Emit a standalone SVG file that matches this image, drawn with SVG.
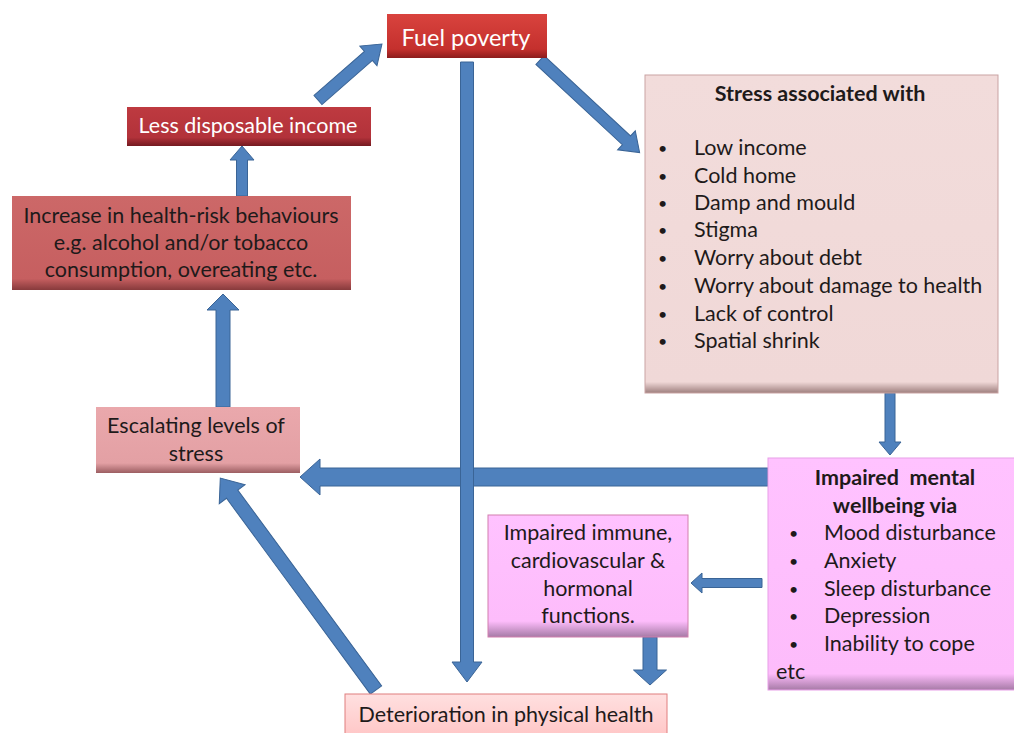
<svg xmlns="http://www.w3.org/2000/svg" width="1014" height="733" viewBox="0 0 1014 733">
<defs>
<linearGradient id="gFuel" x1="0" y1="0" x2="0" y2="1"><stop offset="0" stop-color="#D9433E"/><stop offset="0.8" stop-color="#C4302D"/><stop offset="1" stop-color="#8C1C1C"/></linearGradient>
<linearGradient id="gLess" x1="0" y1="0" x2="0" y2="1"><stop offset="0" stop-color="#BE3A40"/><stop offset="0.78" stop-color="#B2323A"/><stop offset="1" stop-color="#741A20"/></linearGradient>
<linearGradient id="gInc" x1="0" y1="0" x2="0" y2="1"><stop offset="0" stop-color="#CC6868"/><stop offset="0.88" stop-color="#C65F60"/><stop offset="1" stop-color="#873A3C"/></linearGradient>
<linearGradient id="gStress" x1="0" y1="0" x2="0" y2="1"><stop offset="0" stop-color="#F2DCDB"/><stop offset="0.965" stop-color="#F0D8D7"/><stop offset="1" stop-color="#9E7F7E"/></linearGradient>
<linearGradient id="gEsc" x1="0" y1="0" x2="0" y2="1"><stop offset="0" stop-color="#EAA8AC"/><stop offset="0.85" stop-color="#E3A0A4"/><stop offset="1" stop-color="#9C5E62"/></linearGradient>
<linearGradient id="gMag" x1="0" y1="0" x2="0" y2="1"><stop offset="0" stop-color="#FFC2FF"/><stop offset="0.93" stop-color="#FDBCFB"/><stop offset="1" stop-color="#A67AA6"/></linearGradient>
<linearGradient id="gImm" x1="0" y1="0" x2="0" y2="1"><stop offset="0" stop-color="#FFC2FF"/><stop offset="0.87" stop-color="#FDBCFB"/><stop offset="1" stop-color="#A67AA6"/></linearGradient>
<linearGradient id="gDet" x1="0" y1="0" x2="0" y2="1"><stop offset="0" stop-color="#FFE0E0"/><stop offset="1" stop-color="#FFC4C4"/></linearGradient>
</defs>
<style>
.arr{fill:#4F81BD;stroke:#3A6496;stroke-width:1;stroke-linejoin:miter}
text{font-family:Lato,"Open Sans","Liberation Sans",sans-serif;font-size:21.5px;fill:#1E1A1A}
.w{fill:#FFFFFF}
.c{text-anchor:middle}
.b{font-weight:bold;font-size:21.5px}
.d{font-size:16px}
</style>
<rect width="1014" height="733" fill="#FFFFFF"/>
<g id="connectors">
<polygon class="arr" transform="translate(318,100) rotate(-41.2)" points="0,-6 67,-6 67,-13 85,0 67,13 67,6 0,6"/>
<polygon class="arr" transform="translate(242,196) rotate(-90)" points="0,-5.5 36,-5.5 36,-12 50,0 36,12 36,5.5 0,5.5"/>
<polygon class="arr" transform="translate(540,60) rotate(42.9)" points="0,-6 118,-6 118,-13 136,0 118,13 118,6 0,6"/>
<polygon class="arr" transform="translate(768,477) rotate(180)" points="0,-9 448,-9 448,-18 468,0 448,18 448,9 0,9"/>
<polygon class="arr" transform="translate(467,62) rotate(90)" points="0,-6.5 600,-6.5 600,-15 620,0 600,15 600,6.5 0,6.5"/>
<polygon class="arr" transform="translate(890,393) rotate(90)" points="0,-5 49,-5 49,-11 62,0 49,11 49,5 0,5"/>
<polygon class="arr" transform="translate(223,407) rotate(-90)" points="0,-7 97,-7 97,-16 113,0 97,16 97,7 0,7"/>
<polygon class="arr" transform="translate(762,583) rotate(180)" points="0,-4.5 60,-4.5 60,-10 71,0 60,10 60,4.5 0,4.5"/>
<polygon class="arr" transform="translate(650,637) rotate(90)" points="0,-7 33,-7 33,-16.5 48,0 33,16.5 33,7 0,7"/>
<polygon class="arr" transform="translate(376,690) rotate(-126.3)" points="0,-7 243,-7 243,-16 263,0 243,16 243,7 0,7"/>
</g>
<g id="fuel-poverty">
<rect x="387" y="14" width="160" height="44" fill="url(#gFuel)"/>
<text class="w c" x="466" y="46" style="font-size:23.5px">Fuel poverty</text>
</g>
<g id="less-disposable-income">
<rect x="127" y="107" width="244" height="39" fill="url(#gLess)"/>
<text class="w c" x="248" y="133">Less disposable income</text>
</g>
<g id="health-risk">
<rect x="12" y="196" width="339" height="94" fill="url(#gInc)"/>
<text class="c" x="181" y="223">Increase in health-risk behaviours</text>
<text class="c" x="181" y="250">e.g. alcohol and/or tobacco</text>
<text class="c" x="181" y="277">consumption, overeating etc.</text>
</g>
<g id="stress-associated">
<rect x="645" y="75" width="353" height="318" fill="url(#gStress)" stroke="#C9A3A3" stroke-width="1"/>
<text class="b c" x="820" y="101">Stress associated with</text>
<text class="d" x="658" y="154">•</text><text x="694" y="155">Low income</text>
<text class="d" x="658" y="182">•</text><text x="694" y="183">Cold home</text>
<text class="d" x="658" y="209">•</text><text x="694" y="210">Damp and mould</text>
<text class="d" x="658" y="236">•</text><text x="694" y="237">Stigma</text>
<text class="d" x="658" y="264">•</text><text x="694" y="265">Worry about debt</text>
<text class="d" x="658" y="292">•</text><text x="694" y="293">Worry about damage to health</text>
<text class="d" x="658" y="320">•</text><text x="694" y="321">Lack of control</text>
<text class="d" x="658" y="347">•</text><text x="694" y="348">Spatial shrink</text>
</g>
<g id="escalating-stress">
<rect x="96" y="407" width="204" height="66" fill="url(#gEsc)"/>
<text class="c" x="196" y="433">Escalating levels of</text>
<text class="c" x="196" y="461">stress</text>
</g>
<g id="impaired-mental">
<rect x="768" y="458" width="250" height="232" fill="url(#gMag)" stroke="#E8A0E8" stroke-width="1"/>
<text class="b c" x="895" y="485" xml:space="preserve" style="white-space:pre">Impaired  mental</text>
<text class="b c" x="895" y="513">wellbeing via</text>
<text class="d" x="789" y="539">•</text><text x="824" y="540">Mood disturbance</text>
<text class="d" x="789" y="567">•</text><text x="824" y="568">Anxiety</text>
<text class="d" x="789" y="595">•</text><text x="824" y="596">Sleep disturbance</text>
<text class="d" x="789" y="622">•</text><text x="824" y="623">Depression</text>
<text class="d" x="789" y="650">•</text><text x="824" y="651">Inability to cope</text>
<text x="776" y="679">etc</text>
</g>
<g id="impaired-immune">
<rect x="488" y="515" width="200" height="122" fill="url(#gImm)" stroke="#D27FAE" stroke-width="1"/>
<text class="c" x="588" y="540">Impaired immune,</text>
<text class="c" x="588" y="568">cardiovascular &amp;</text>
<text class="c" x="588" y="596">hormonal</text>
<text class="c" x="588" y="623">functions.</text>
</g>
<g id="deterioration">
<rect x="345" y="694" width="322" height="46" fill="url(#gDet)" stroke="#E07F7F" stroke-width="1"/>
<text class="c" x="506" y="722">Deterioration in physical health</text>
</g>
</svg>
